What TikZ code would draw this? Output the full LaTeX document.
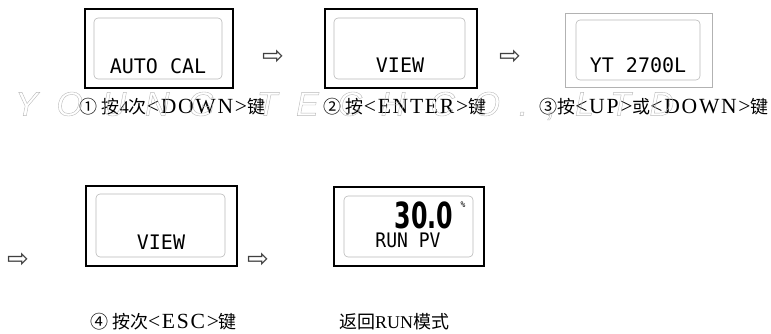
\documentclass[tikz,border=0pt]{standalone}
\usepackage{fontspec}
\setmainfont{Liberation Serif}
\newfontfamily\cjk{Noto Sans CJK SC}
\newfontfamily\fwlat[LetterSpace=8, Scale=1.2]{Liberation Serif}
\newfontfamily\lcdfont{DejaVu Sans Mono}
\newfontfamily\symfont{DejaVu Sans}
\newfontfamily\wmfont[LetterSpace=55]{Liberation Sans}
\usetikzlibrary{positioning}

\begin{document}
\begin{tikzpicture}[
    x=1pt, y=-1pt,
    panel/.style ={draw, line width=1.8pt, minimum width=150pt,
                   minimum height=79pt, inner sep=0pt},
    dimpanel/.style={draw=gray!60, line width=0.7pt, minimum width=147pt,
                   minimum height=74pt, inner sep=0pt},
    screen/.style={draw=gray!55, line width=0.6pt, rounded corners=4pt,
                   minimum width=129pt, minimum height=61pt, inner sep=0pt},
    lcd/.style   ={font=\lcdfont\fontsize{20}{20}\selectfont, inner sep=0pt},
    stepnote/.style={font=\fontsize{18}{20}\selectfont, inner sep=0pt},
    nxt/.style   ={font=\symfont\fontsize{26}{26}\selectfont, inner sep=0pt,
                   text=black!75},
    watermark/.style={font=\wmfont\itshape\fontsize{34}{34}\selectfont,
                   text=gray!55, inner sep=0pt, anchor=west},
]
\useasboundingbox (0,0) rectangle (771,334);
% first row
\node[panel, minimum width=148pt] (autopanel) at (159,48.5) {};
\node[screen, minimum width=128pt] (autoscreen) at (158,48.5) {};
\node[lcd] (autotext) at (158,66) {AUTO CAL};
\node[nxt] (nextA) at (273,57) {⇨};
\node[panel, minimum width=152pt] (viewpanel) at (401,48.5) {};
\node[screen, minimum width=131pt] (viewscreen) at (399.5,48.5) {};
\node[lcd] (viewtext) at (400,65) {VIEW};
\node[nxt] (nextB) at (510,57) {⇨};
\node[dimpanel] (typepanel) at (638.5,50) {};
\node[screen, minimum width=124pt, minimum height=60pt] (typescreen) at (638,50) {};
\node[lcd] (typetext) at (638,65) {YT 2700L};
% captions of the first row
\node[stepnote] (stepA) at (172.5,107)
  {{\cjk ①\ 按}4{\cjk 次}{\fwlat <DOWN>}{\cjk 键}};
\node[stepnote] (stepB) at (405,107)
  {{\cjk ②\ 按}{\fwlat <ENTER>}{\cjk 键}};
\node[stepnote] (stepC) at (654,107)
  {{\cjk ③按}{\fwlat <UP>}{\cjk 或}{\fwlat <DOWN>}{\cjk 键}};
% second row
\node[nxt] (nextC) at (18,260) {⇨};
\node[panel, minimum width=151pt, minimum height=80pt] (backpanel) at (161.5,226) {};
\node[screen, minimum height=63pt] (backscreen) at (160.5,225.5) {};
\node[lcd] (backtext) at (161,242) {VIEW};
\node[nxt] (nextD) at (258,260) {⇨};
\node[panel] (runpanel) at (409,226.5) {};
\node[screen] (runscreen) at (408.5,226.5) {};
\node[lcd, font=\symfont\bfseries\fontsize{36}{36}\selectfont, xscale=0.66]
  (runvalue) at (424,215) {30.0};
\node[lcd, font=\lcdfont\fontsize{8}{8}\selectfont] (rununit) at (463,205) {\%};
\node[lcd, xscale=0.9] (runtext) at (408,240.5) {RUN PV};
% captions of the second row
\node[stepnote] (stepD) at (163.5,322)
  {{\cjk ④\ 按次}{\fwlat <ESC>}{\cjk 键}};
\node[stepnote] (stepE) at (394,322) {{\cjk 返回}RUN{\cjk 模式}};
% the brand mark across the first captions
\node[watermark] (brand) at (15,106)
  {\special{pdf:code 1 Tr 0.4 w}YOUNG\hspace{42pt}TECH\hspace{25pt}CO.,LTD\special{pdf:code 0 Tr}};
\end{tikzpicture}
\end{document}
